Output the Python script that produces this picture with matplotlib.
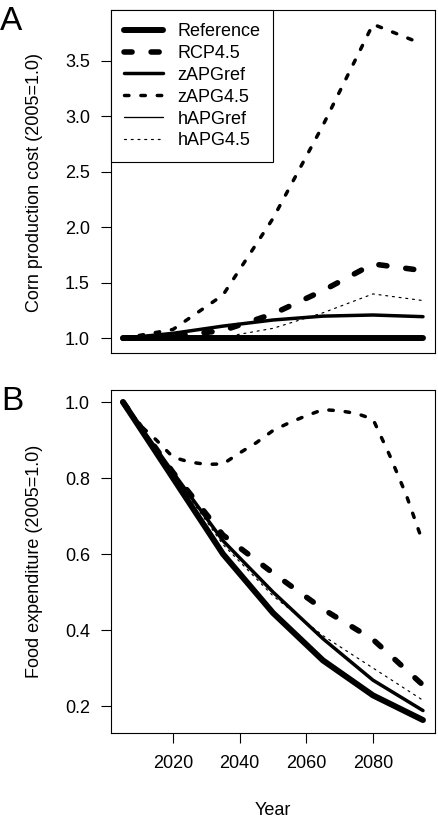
import matplotlib
matplotlib.use("Agg")
import matplotlib.pyplot as plt
import numpy as np

plt.rcParams['font.family'] = ['Liberation Sans', 'DejaVu Sans']
plt.rcParams['lines.scale_dashes'] = False

# years for the 15-year model steps
years = [2005, 2020, 2035, 2050, 2065, 2080, 2095]

# panel A: corn production cost (2005=1.0)
cost_reference = [1.0, 1.0, 1.0, 1.0, 1.0, 1.0, 1.0]
cost_rcp45 = [1.0, 1.02, 1.07, 1.22, 1.43, 1.67, 1.61]
cost_zapgref = [1.0, 1.045, 1.11, 1.165, 1.20, 1.21, 1.195]
cost_zapg45 = [1.0, 1.08, 1.39, 2.08, 2.92, 3.83, 3.65]
cost_hapgref = [1.0, 1.045, 1.11, 1.165, 1.20, 1.21, 1.195]
cost_hapg45 = [1.0, 1.0, 1.01, 1.09, 1.23, 1.40, 1.34]

# panel B: food expenditure (2005=1.0)
food_reference = [1.0, 0.80, 0.60, 0.445, 0.32, 0.228, 0.163]
food_rcp45 = [1.0, 0.815, 0.65, 0.55, 0.455, 0.375, 0.255]
food_zapgref = [1.0, 0.815, 0.635, 0.50, 0.377, 0.268, 0.188]
food_hapgref = [1.0, 0.815, 0.635, 0.50, 0.377, 0.268, 0.188]
food_hapg45 = [1.0, 0.81, 0.625, 0.49, 0.385, 0.30, 0.215]
# zAPG4.5 is read every 5 years (curve is smooth)
years_5 = [2005, 2010, 2015, 2020, 2025, 2030, 2035, 2040, 2045, 2050,
           2055, 2060, 2065, 2070, 2075, 2080, 2085, 2090, 2095]
food_zapg45 = [1.0, 0.94, 0.90, 0.855, 0.842, 0.836, 0.837, 0.866, 0.893, 0.925,
               0.946, 0.964, 0.98, 0.977, 0.97, 0.955, 0.86, 0.755, 0.63]

labels = ["Reference", "RCP4.5", "zAPGref", "zAPG4.5", "hAPGref", "hAPG4.5"]

# line styles (width pt, dash pattern pt)
styles = [
    dict(lw=4.3, dashes=None),
    dict(lw=4.0, dashes=(5.8, 13.7)),
    dict(lw=2.5, dashes=None),
    dict(lw=2.5, dashes=(3.2, 8.6)),
    dict(lw=0.95, dashes=None),
    dict(lw=0.85, dashes=(1.45, 3.4)),
]

FS = 13


def draw(ax, series):
    handles = []
    for (x, y), st, lab in zip(series, styles, labels):
        kw = dict(color='black', lw=st['lw'], solid_capstyle='round',
                  dash_capstyle='round', solid_joinstyle='round', label=lab)
        if st['dashes'] is not None:
            kw['dashes'] = st['dashes']
        h, = ax.plot(x, y, **kw)
        handles.append(h)
    return handles


fig = plt.figure(figsize=(4.38, 8.22), dpi=100)
axA = fig.add_axes([0.2534, 0.5706, 0.7397, 0.4172])
axB = fig.add_axes([0.2534, 0.1083, 0.7397, 0.4172])

hA = draw(axA, [(years, cost_reference), (years, cost_rcp45), (years, cost_zapgref),
                (years, cost_zapg45), (years, cost_hapgref), (years, cost_hapg45)])
draw(axB, [(years, food_reference), (years, food_rcp45), (years, food_zapgref),
           (years_5, food_zapg45), (years, food_hapgref), (years, food_hapg45)])

for ax in (axA, axB):
    ax.set_xlim(2001.4, 2098.6)
    for s in ax.spines.values():
        s.set_linewidth(0.8)
    ax.tick_params(axis='both', length=7.2, width=0.8, labelsize=FS, direction='out')
    ax.tick_params(axis='y', pad=8)
    ax.tick_params(axis='x', pad=9)

axA.set_ylim(0.868, 3.958)
axA.set_yticks([1.0, 1.5, 2.0, 2.5, 3.0, 3.5])
axA.set_yticklabels(["1.0", "1.5", "2.0", "2.5", "3.0", "3.5"])
axA.set_xticks([])

axB.set_ylim(0.129, 1.0316)
axB.set_yticks([0.2, 0.4, 0.6, 0.8, 1.0])
axB.set_yticklabels(["0.2", "0.4", "0.6", "0.8", "1.0"])
axB.set_xticks([2020, 2040, 2060, 2080])

leg = axA.legend(handles=hA, loc='upper left', bbox_to_anchor=(0, 1), borderaxespad=0,
                 fontsize=FS, handlelength=2.17, handletextpad=0.78, labelspacing=0.27,
                 borderpad=0.72, fancybox=False, framealpha=1, edgecolor='black')
leg.get_frame().set_linewidth(0.8)

fig.text(35 / 438, 1 - 182 / 822, "Corn production cost (2005=1.0)", rotation=90,
         ha='center', va='center', fontsize=FS)
fig.text(35 / 438, 1 - 561 / 822, "Food expenditure (2005=1.0)", rotation=90,
         ha='center', va='center', fontsize=FS)
fig.text(273 / 438, 1 - 810 / 822, "Year", ha='center', va='center', fontsize=FS)
fig.text(11.5 / 438, 1 - 21.5 / 822, "A", ha='center', va='center', fontsize=24)
fig.text(12 / 438, 1 - 401.5 / 822, "B", ha='center', va='center', fontsize=24)

fig.savefig("out.png", dpi=100)
